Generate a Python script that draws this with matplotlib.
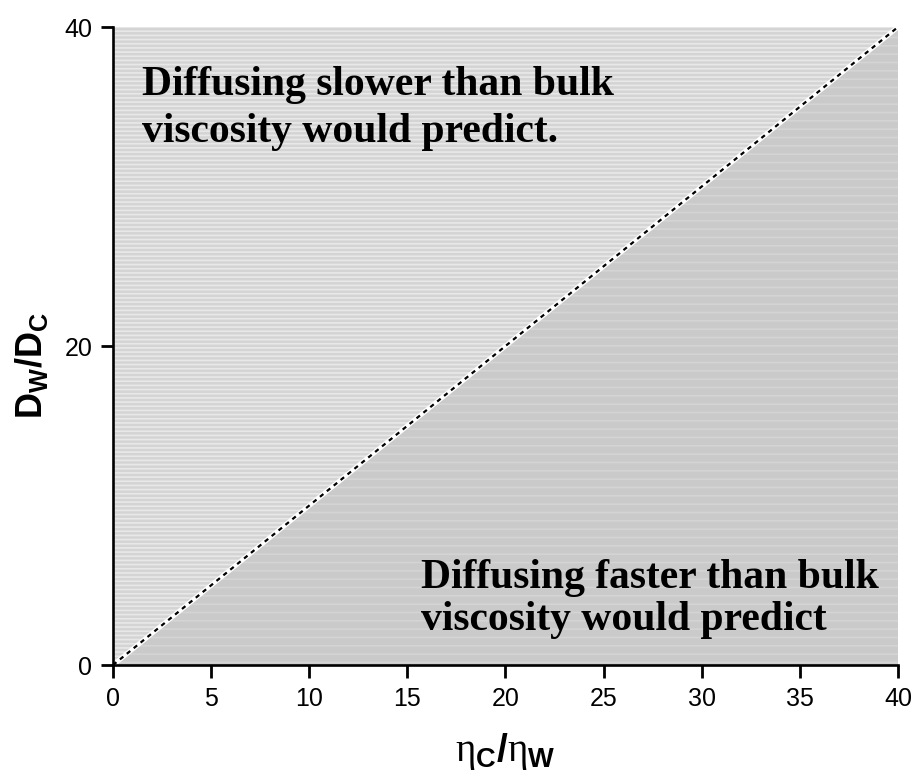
import numpy as np
import matplotlib
matplotlib.use("Agg")
import matplotlib.pyplot as plt

plt.rcParams["font.family"] = ["Liberation Sans", "DejaVu Sans"]
plt.rcParams["mathtext.fontset"] = "custom"
plt.rcParams["mathtext.rm"] = "Liberation Serif"
plt.rcParams["mathtext.bf"] = "Liberation Sans:bold"
plt.rcParams["mathtext.sf"] = "Liberation Sans"
plt.rcParams["hatch.linewidth"] = 1.2

# axis range and ticks
axis_max = 40
x_ticks = [0, 5, 10, 15, 20, 25, 30, 35, 40]
y_ticks = [0, 20, 40]

# the D_W/D_C = eta_C/eta_W line splits the two regimes
diag_x = [0, 40]
diag_y = [0, 40]

# region labels: (x, y of first baseline, y of second baseline, lines)
upper_label = (1.5, 35.75, 32.8, ["Diffusing slower than bulk", "viscosity would predict."])
lower_label = (15.7, 4.85, 2.2, ["Diffusing faster than bulk", "viscosity would predict"])

fig = plt.figure(figsize=(9.15, 7.74), dpi=100)
ax = fig.add_axes([0.1235, 0.1408, 0.8579, 0.8243])

# shaded regions above and below the diagonal
ax.fill([0, 0, axis_max], [0, axis_max, axis_max], facecolor="#d4d4d4",
        edgecolor="#e8e8e8", hatch="----", linewidth=0, zorder=0)
ax.fill([0, axis_max, axis_max], [0, 0, axis_max], facecolor="#cacaca",
        edgecolor="#d4d4d4", hatch="--", linewidth=0, zorder=0)

ax.plot(diag_x, diag_y, color="white", linewidth=3.5, zorder=2)
ax.plot(diag_x, diag_y, color="black", linewidth=1.6, linestyle=(0, (2, 2)), zorder=3)

for x0, y1, y2, lines in (upper_label, lower_label):
    for yy, s in zip((y1, y2), lines):
        ax.text(x0, yy, s, fontfamily="Liberation Serif", fontweight="bold",
                fontsize=30, va="baseline", ha="left", zorder=4)

ax.set_xlim(0, axis_max)
ax.set_ylim(0, axis_max)
ax.set_xticks(x_ticks)
ax.set_yticks(y_ticks)
ax.tick_params(direction="out", length=9, width=2, labelsize=18)
ax.tick_params(axis="x", pad=7)
ax.tick_params(axis="y", pad=6)

for side in ("top", "right"):
    ax.spines[side].set_visible(False)
for side in ("left", "bottom"):
    ax.spines[side].set_linewidth(1.9)

ax.set_xlabel(r"$\mathrm{η}_{\mathbf{C}}\mathbf{/}\mathrm{η}_{\mathbf{W}}$", fontsize=28, labelpad=14)
ax.set_ylabel(r"$\mathbf{D_{W}/D_{C}}$", fontsize=26)
ax.yaxis.set_label_coords(-0.08, 0.47)

fig.savefig("out.png", dpi=100, facecolor="white")
